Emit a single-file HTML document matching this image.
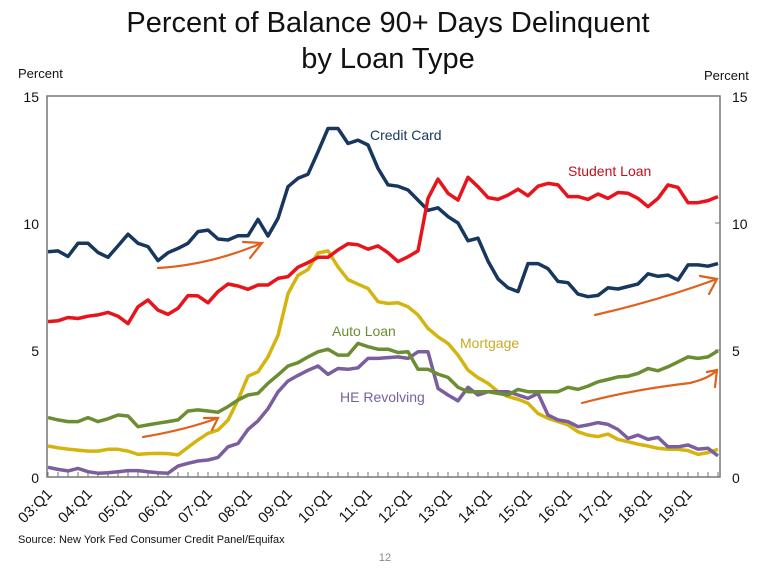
<!DOCTYPE html>
<html><head><meta charset="utf-8"><style>
body{margin:0;background:#fff;width:770px;height:575px;overflow:hidden;font-family:"Liberation Sans",sans-serif}
</style></head><body>
<svg id="chart" width="770" height="575" xmlns="http://www.w3.org/2000/svg" font-family="Liberation Sans, sans-serif">
<text x="388" y="32" font-size="29" text-anchor="middle" fill="#111">Percent of Balance 90+ Days Delinquent</text>
<text x="388" y="68" font-size="29" text-anchor="middle" fill="#111">by Loan Type</text>
<text x="18" y="78" font-size="13" fill="#111">Percent</text>
<text x="704" y="80" font-size="13" fill="#111">Percent</text>
<g id="axes"></g>
<g id="series"></g>
<g stroke="#e0601c" stroke-width="2.2" fill="none" stroke-linecap="round">
<path d="M158,268 Q210,265 262,243 M250,258 L262,243 L243,242"/>
<path d="M143,437 Q185,430 218,418 M212,430 L218,418 L204,418"/>
<path d="M595,315 Q660,300 717,279 M709,294 L717,279 L700,276"/>
<path d="M582,403 Q630,390 690,383 Q710,378 717,370 M715,387 L717,370 L707,372"/>
</g>
<text x="370" y="140" font-size="14" fill="#17375e">Credit Card</text>
<text x="568" y="176" font-size="14" fill="#c0101a">Student Loan</text>
<text x="332" y="336" font-size="14" fill="#6b8e32">Auto Loan</text>
<text x="460" y="348" font-size="14" fill="#c9aa22">Mortgage</text>
<text x="340" y="402" font-size="14" fill="#7b5e9e">HE Revolving</text>
<text x="18" y="543" font-size="11" fill="#111">Source: New York Fed Consumer Credit Panel/Equifax</text>
<text x="385" y="561" font-size="11" fill="#888" text-anchor="middle">12</text>
</svg>
<script>
const yTicks=[0,5,10,15];
const yearLabels=["03:Q1","04:Q1","05:Q1","06:Q1","07:Q1","08:Q1","09:Q1","10:Q1","11:Q1","12:Q1","13:Q1","14:Q1","15:Q1","16:Q1","17:Q1","18:Q1","19:Q1"];
const creditCard=[8.87,8.9,8.68,9.2,9.2,8.84,8.65,9.1,9.56,9.2,9.07,8.52,8.83,9.0,9.2,9.66,9.72,9.37,9.33,9.5,9.5,10.14,9.49,10.18,11.43,11.76,11.92,12.8,13.72,13.72,13.13,13.26,13.07,12.15,11.5,11.45,11.3,10.9,10.5,10.6,10.25,10.0,9.3,9.4,8.5,7.8,7.45,7.3,8.4,8.4,8.2,7.7,7.65,7.2,7.1,7.15,7.45,7.4,7.5,7.6,8.0,7.9,7.95,7.75,8.35,8.35,8.3,8.4];
const studentLoan=[6.12,6.15,6.28,6.24,6.33,6.38,6.48,6.33,6.04,6.7,6.97,6.57,6.4,6.64,7.14,7.13,6.86,7.3,7.6,7.52,7.39,7.56,7.56,7.82,7.89,8.26,8.44,8.65,8.65,8.94,9.18,9.14,8.97,9.1,8.83,8.48,8.67,8.9,10.97,11.73,11.17,10.9,11.8,11.43,11.0,10.93,11.1,11.33,11.07,11.45,11.56,11.5,11.04,11.04,10.93,11.14,10.97,11.2,11.17,10.97,10.64,10.97,11.5,11.4,10.8,10.8,10.88,11.04];
const mortgage=[1.22,1.15,1.1,1.06,1.02,1.02,1.09,1.09,1.02,0.89,0.92,0.93,0.92,0.87,1.17,1.46,1.72,1.85,2.24,3.03,3.97,4.14,4.73,5.58,7.22,7.94,8.17,8.82,8.9,8.27,7.77,7.59,7.42,6.9,6.83,6.86,6.7,6.38,5.85,5.52,5.26,4.8,4.21,3.91,3.69,3.36,3.17,3.06,2.9,2.5,2.31,2.18,2.05,1.78,1.65,1.59,1.69,1.48,1.39,1.29,1.22,1.13,1.09,1.09,1.04,0.89,0.96,1.09];
const autoLoan=[2.34,2.25,2.18,2.18,2.34,2.18,2.29,2.44,2.4,1.98,2.05,2.12,2.18,2.25,2.6,2.64,2.6,2.55,2.77,3.03,3.23,3.29,3.69,4.02,4.37,4.5,4.73,4.93,5.03,4.8,4.8,5.26,5.13,5.03,5.03,4.9,4.93,4.24,4.24,4.05,3.92,3.53,3.36,3.36,3.36,3.29,3.23,3.45,3.36,3.36,3.36,3.36,3.53,3.45,3.58,3.75,3.84,3.94,3.97,4.08,4.27,4.18,4.34,4.53,4.73,4.67,4.73,4.97];
const heRevolving=[0.38,0.3,0.24,0.34,0.21,0.15,0.17,0.21,0.25,0.25,0.21,0.17,0.15,0.43,0.54,0.63,0.67,0.77,1.19,1.32,1.87,2.21,2.69,3.35,3.78,4.0,4.2,4.37,4.04,4.27,4.24,4.3,4.67,4.67,4.7,4.73,4.67,4.93,4.93,3.49,3.23,3.0,3.53,3.23,3.36,3.36,3.36,3.23,3.1,3.29,2.44,2.25,2.18,1.98,2.05,2.14,2.07,1.87,1.52,1.65,1.48,1.56,1.19,1.19,1.26,1.1,1.13,0.83];

const L=47,R=720,T=96,B=477,X0=48,DX=10;
const ys=v=>B-(v/15)*(B-T);
const xs=i=>X0+i*DX;
const NS="http://www.w3.org/2000/svg";
function mk(tag,attrs,parent){const e=document.createElementNS(NS,tag);for(const k in attrs)e.setAttribute(k,attrs[k]);parent.appendChild(e);return e;}
const ax=document.getElementById('axes');
const frame=mk('rect',{x:L,y:T,width:R-L,height:B-T,fill:'none',stroke:'#777','stroke-width':1.5},ax);


yTicks.forEach(v=>{
  const tl=mk('text',{x:L-8,y:ys(v)+6,'font-size':14,'text-anchor':'end',fill:'#111'},ax);tl.textContent=v;
  
  
  const tr=mk('text',{x:R+12,y:ys(v)+6,'font-size':14,fill:'#111'},ax);tr.textContent=v;
  
  
  mk('line',{x1:R-5,x2:R,y1:ys(v),y2:ys(v),stroke:'#777'},ax);
});
for(let i=0;i<creditCard.length;i++){mk('line',{x1:xs(i),x2:xs(i),y1:B-5,y2:B,stroke:'#777'},ax);}
yearLabels.forEach((lab,k)=>{
  const x=xs(k*4);
  const t=mk('text',{x:x+5,y:B+18,'font-size':15,'text-anchor':'end',fill:'#111',transform:`rotate(-45 ${x+5} ${B+18})`},ax);t.textContent=lab;
  
  
});
const sg=document.getElementById('series');
[[mortgage,'#d4b50f','mortgage-line'],[heRevolving,'#7b5e9e','he-revolving-line'],[autoLoan,'#6b8e32','auto-loan-line'],[creditCard,'#17375e','credit-card-line'],[studentLoan,'#e8141c','student-loan-line']].forEach(([d,c,n])=>{
  const p=mk('polyline',{points:d.map((v,i)=>xs(i)+','+ys(v).toFixed(1)).join(' '),fill:'none',stroke:c,'stroke-width':3.5,'stroke-linejoin':'round'},sg);
  
  
});
</script>
</body></html>
